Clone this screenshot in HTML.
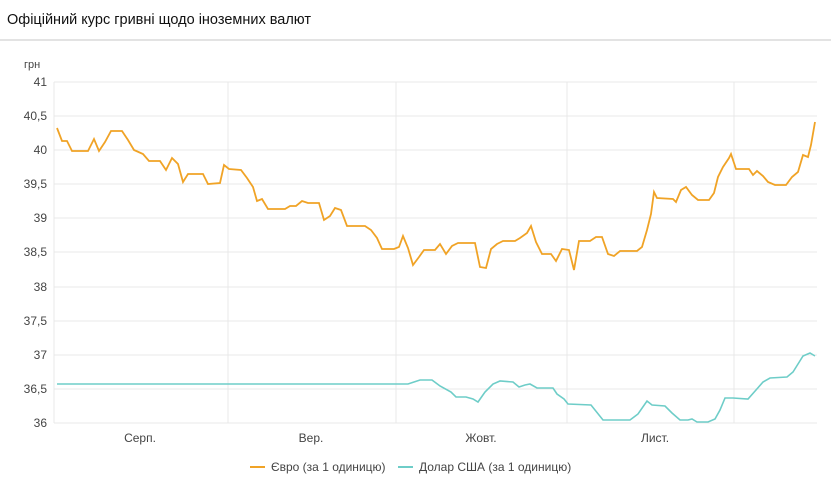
<!DOCTYPE html>
<html><head><meta charset="utf-8"><style>
body{margin:0;background:#fff;width:831px;height:487px;overflow:hidden;font-family:"Liberation Sans",sans-serif;}
</style></head><body>
<svg width="831" height="487" xmlns="http://www.w3.org/2000/svg" font-family="Liberation Sans, sans-serif">
<text x="7" y="24" font-size="14.5" fill="#111">Офіційний курс гривні щодо іноземних валют</text>
<rect x="0" y="39" width="831" height="2" fill="#e3e3e3"/>
<text x="24" y="68" font-size="11" fill="#444">грн</text>
<g stroke="#e8e8e8" stroke-width="1">
<line x1="54" y1="82" x2="817" y2="82"/><line x1="54" y1="116" x2="817" y2="116"/><line x1="54" y1="150" x2="817" y2="150"/><line x1="54" y1="184" x2="817" y2="184"/><line x1="54" y1="218" x2="817" y2="218"/><line x1="54" y1="252" x2="817" y2="252"/><line x1="54" y1="287" x2="817" y2="287"/><line x1="54" y1="321" x2="817" y2="321"/><line x1="54" y1="355" x2="817" y2="355"/><line x1="54" y1="389" x2="817" y2="389"/><line x1="54" y1="423" x2="817" y2="423"/>
<line x1="54" y1="82" x2="54" y2="423"/><line x1="228" y1="82" x2="228" y2="423"/><line x1="396" y1="82" x2="396" y2="423"/><line x1="567" y1="82" x2="567" y2="423"/><line x1="734" y1="82" x2="734" y2="423"/>
</g>
<g font-size="12" fill="#444" text-anchor="end">
<text x="47" y="86">41</text><text x="47" y="120">40,5</text><text x="47" y="154">40</text><text x="47" y="188">39,5</text><text x="47" y="222">39</text><text x="47" y="256">38,5</text><text x="47" y="291">38</text><text x="47" y="325">37,5</text><text x="47" y="359">37</text><text x="47" y="393">36,5</text><text x="47" y="427">36</text>
</g>
<g font-size="12" fill="#444" text-anchor="middle">
<text x="140" y="442">Серп.</text><text x="311" y="442">Вер.</text><text x="481" y="442">Жовт.</text><text x="655" y="442">Лист.</text>
</g>
<polyline fill="none" stroke="#f0a326" stroke-width="1.8" points="57,128 62,141 67,141 72,151 88,151 94,139 99,151 105,142 111,131 122,131 128,140 134,150 143,154 149,161 160,161 166,170 172,158 178,164 183,182 188,174 203,174 208,184 220,183 224,165 229,169 241,170 247,178 253,187 257,201 262,199 268,209 285,209 290,206 296,206 302,201 308,203 319,203 324,220 330,216 335,208 341,210 347,226 365,226 371,230 377,238 382,249 394,249 399,247 403,236 408,248 413,265 419,257 424,250 435,250 440,244 446,254 452,246 458,243 475,243 480,267 486,268 491,249 497,244 503,241 515,241 520,238 527,233 531,226 536,242 542,254 551,254 556,261 562,249 569,250 574,270 579,241 590,241 596,237 602,237 608,254 614,256 620,251 637,251 642,247 647,230 651,214 654,192 657,198 673,199 676,202 681,190 686,187 692,195 698,200 709,200 714,193 718,177 723,167 729,158 731,154 736,169 749,169 753,175 757,171 763,176 768,182 775,185 786,185 792,177 798,172 803,155 808,157 811,145 815,122"/>
<polyline fill="none" stroke="#6ecdc8" stroke-width="1.6" points="57,384 408,384 414,382 420,380 432,380 440,386 451,392 456,397 466,397 473,399 478,402 485,392 493,384 500,381 513,382 519,387 525,385 530,384 537,388 553,388 557,394 564,399 568,404 591,405 603,420 630,420 638,414 647,401 652,405 665,406 672,413 680,420 688,420 692,419 697,422 708,422 715,419 720,410 725,398 733,398 748,399 756,390 763,382 770,378 787,377 793,372 798,364 803,356 810,353 815,356"/>
<line x1="250" y1="467" x2="265" y2="467" stroke="#f0a326" stroke-width="2"/>
<text x="271" y="471" font-size="12" fill="#444">Євро (за 1 одиницю)</text>
<line x1="398" y1="467" x2="413" y2="467" stroke="#6ecdc8" stroke-width="2"/>
<text x="419" y="471" font-size="12" fill="#444">Долар США (за 1 одиницю)</text>
</svg>
</body></html>
